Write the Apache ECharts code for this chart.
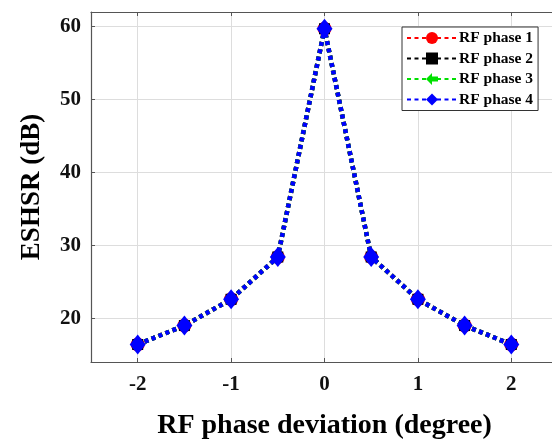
<!DOCTYPE html>
<html><head><meta charset="utf-8">
<script src="https://cdn.jsdelivr.net/npm/echarts@6/dist/echarts.min.js"></script>
<style>html,body{margin:0;padding:0;background:#fff}#c{width:552px;height:443px}</style>
</head><body><div id="c"></div>
<script>
const xValues = [-2, -1.5, -1, -0.5, 0, 0.5, 1, 1.5, 2];
const phase1 = [16.4, 19.0, 22.6, 28.4, 59.7, 28.4, 22.6, 19.0, 16.4];
const phase2 = [16.4, 19.0, 22.6, 28.4, 59.7, 28.4, 22.6, 19.0, 16.4];
const phase3 = [16.4, 19.0, 22.6, 28.4, 59.7, 28.4, 22.6, 19.0, 16.4];
const phase4 = [16.4, 19.0, 22.6, 28.4, 59.7, 28.4, 22.6, 19.0, 16.4];
const seriesNames = ['RF phase 1', 'RF phase 2', 'RF phase 3', 'RF phase 4'];
const xTicks = [-2, -1, 0, 1, 2];
const yTicks = [20, 30, 40, 50, 60];

const font = 'Liberation Serif';
const pairs = v => xValues.map((x, i) => [x, v[i]]);
const styles = [
  {color: '#ff0000', symbol: 'circle', size: 14},
  {color: '#000000', symbol: 'rect', size: 11},
  {color: '#00e000', symbol: 'path://M0,5 L5,0 L5,3 L10,3 L10,7 L5,7 L5,10 Z', size: 11},
  {color: '#0000ff', symbol: 'diamond', size: [16, 20]}
];
const data = [phase1, phase2, phase3, phase4];
const axisColor = '#555';

const chart = echarts.init(document.getElementById('c'));
chart.setOption({
  animation: false,
  grid: {left: 91, top: 12, width: 467, height: 350, outerBoundsMode: 'none', containLabel: false},
  legend: {
    orient: 'vertical', left: 402, top: 27,
    data: seriesNames,
    itemWidth: 50, itemHeight: 15, itemGap: 4.5,
    padding: [3, 5, 3, 4],
    borderColor: '#333', borderWidth: 1, backgroundColor: '#fff',
    textStyle: {fontFamily: font, fontWeight: 'bold', fontSize: 15.5, color: '#000', padding: [0, 0, 0, -3]}
  },
  xAxis: [{
    type: 'value', min: -2.5, max: 2.5,
    name: 'RF phase deviation (degree)', nameLocation: 'middle', nameGap: 50,
    nameTextStyle: {fontFamily: font, fontWeight: 'bold', fontSize: 28, color: '#000'},
    axisLine: {show: true, onZero: false, lineStyle: {color: axisColor, width: 1.2}},
    axisTick: {inside: true, length: 4, lineStyle: {color: axisColor}, customValues: xTicks},
    axisLabel: {fontFamily: font, fontWeight: 'bold', fontSize: 21, color: '#111', margin: 12,
      customValues: xTicks},
    splitLine: {show: true, lineStyle: {color: '#ddd', width: 1}}
  }, {
    type: 'value', position: 'top', min: -2.5, max: 2.5,
    axisLine: {show: true, onZero: false, lineStyle: {color: axisColor, width: 1.2}},
    axisTick: {inside: true, length: 4, lineStyle: {color: axisColor}, customValues: xTicks},
    axisLabel: {show: false}, splitLine: {show: false}
  }],
  yAxis: {
    type: 'value', min: 14, max: 62,
    name: 'ESHSR (dB)', nameLocation: 'middle', nameGap: 45,
    nameTextStyle: {fontFamily: font, fontWeight: 'bold', fontSize: 27, color: '#000'},
    axisLine: {show: true, onZero: false, lineStyle: {color: axisColor, width: 1.2}},
    axisTick: {inside: true, length: 4, lineStyle: {color: axisColor}, customValues: yTicks},
    axisLabel: {fontFamily: font, fontWeight: 'bold', fontSize: 21, color: '#111', margin: 10, customValues: yTicks},
    splitLine: {show: true, lineStyle: {color: '#ddd', width: 1}}
  },
  series: data.map((d, i) => ({
    name: seriesNames[i], type: 'line', data: pairs(d),
    symbol: styles[i].symbol, symbolSize: styles[i].size,
    itemStyle: {color: styles[i].color},
    lineStyle: {color: styles[i].color, width: 4.5, type: [4, 3.5], cap: 'butt'},
    z: 2 + i
  }))
});
</script></body></html>
